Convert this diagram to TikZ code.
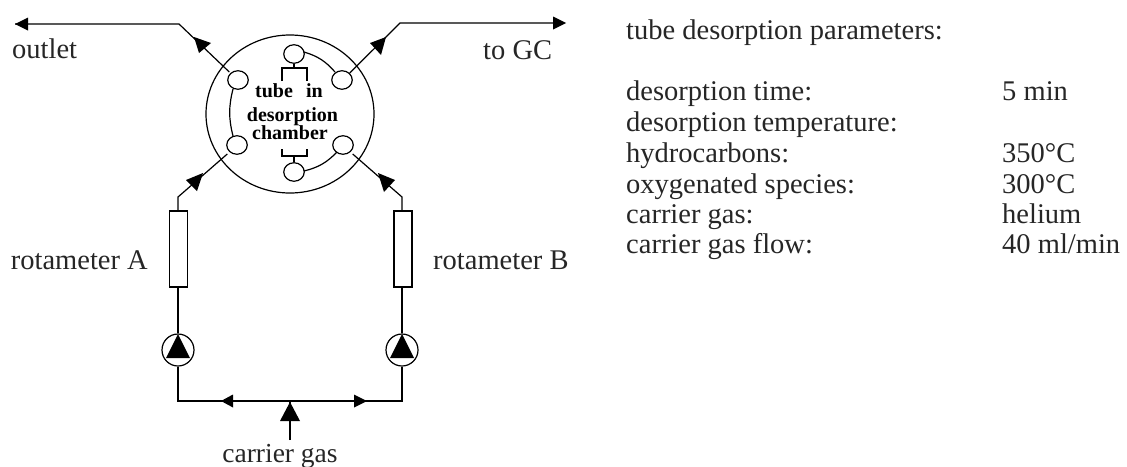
\documentclass[tikz,border=0pt]{standalone}
\usepackage{fontspec}
\setmainfont{Liberation Serif}
\usetikzlibrary{calc,shapes.geometric}
\tikzset{
  ln/.style={line width=1.2pt,black},
  hd/.style={fill=black,draw=none},
  lbl/.style={font=\fontsize{28.5}{30}\selectfont,inner sep=0pt,anchor=base west,text=black!85},
  lblc/.style={font=\fontsize{27.5}{30}\selectfont,inner sep=0pt,anchor=base,text=black!85},
  inner/.style={font=\fontsize{20}{20}\selectfont\bfseries,inner sep=0pt,anchor=base},
  port/.style={draw,ellipse,line width=1.2pt,minimum width=20.5pt,minimum height=18.5pt,inner sep=0pt},
  meter/.style={draw,line width=1.2pt,minimum width=18pt,minimum height=76pt,inner sep=0pt},
  pump/.style={draw,circle,line width=1.2pt,minimum size=32pt,inner sep=0pt},
}
\begin{document}
\begin{tikzpicture}[x=1pt,y=-1pt]
\useasboundingbox (0,0) rectangle (1127,466);
% chamber
\node[draw,ellipse,line width=1.2pt,minimum width=168pt,minimum height=158pt,inner sep=0pt] (ch) at (290,114) {};
\node[port] (pt) at (294,54) {};
\node[port] (ptr) at (342,80) {};
\node[port] (ptl) at (238,80) {};
\node[port] (pbl) at (237,145) {};
\node[port] (pbr) at (343,145) {};
\node[port] (pb) at (294,172) {};
\draw[ln] (304,52) to[bend left=16] (335,72);
\draw[ln] (304,171) to[bend right=16] (337,152);
\draw[ln] (233,89) to[bend right=14] (233,136);
% brackets
\draw[ln] (pt.south) -- (294,68);
\draw[ln] (282,81) -- (282,68) -- (307,68) -- (307,81);
\draw[ln] (pb.north) -- (294,156);
\draw[ln] (282,149) -- (282,156) -- (307,156) -- (307,149);
% inner text
\node[inner,anchor=base west] (t1) at (255,97) {tube};
\node[inner,anchor=base east] (t2) at (323,97) {in};
\node[inner] (t3) at (292.5,121) {desorption};
\node[inner] (t4) at (290,139) {chamber};
% outlet
\coordinate (ok) at (179,24);
\coordinate (ol) at (15,24);
\draw[ln] (ptl.north west) ++(-1,-1) -- (ok) -- (ol);
\fill[hd] (15,24) -- (28,17.5) -- (28,30.5) -- cycle;
\fill[hd] (194,37) -- (211,43) -- (199,53) -- cycle;
% to GC
\coordinate (gk) at (400,23);
\draw[ln] (ptr.north east) -- (gk) -- (558,23);
\fill[hd] (566,23) -- (553,16.5) -- (553,29.5) -- cycle;
\fill[hd] (386,37) -- (381,55) -- (370,43) -- cycle;
% rotameters
\node[meter] (ra) at (178.5,249) {};
\node[meter] (rb) at (403,249) {};
\coordinate (ka) at (178,197);
\coordinate (kb) at (402,197);
\draw[ln] (pbl.south west) ++(-2,2) -- (ka) -- (ra.north -| ka);
\draw[ln] (pbr.south east) ++(2,2) -- (kb) -- (rb.north -| kb);
\fill[hd] (203,173) -- (197,191) -- (186,180) -- cycle;
\fill[hd] (378,173) -- (395,180) -- (384,192) -- cycle;
% pumps
\node[pump] (pa) at (178,350) {};
\node[pump] (pc) at (402,350) {};
\fill[hd] (178,334) -- (190,358) -- (166,358) -- cycle;
\fill[hd] (402,334) -- (414,358) -- (390,358) -- cycle;
\draw[ln] (ra.south -| pa) -- (pa.north);
\draw[ln] (rb.south -| pc) -- (pc.north);
% bottom
\coordinate (j) at (290,401);
\draw[ln] (pa.south) -- (178,401) -- (402,401) -- (pc.south);
\fill[hd] (221,401) -- (233,394.5) -- (233,407.5) -- cycle;
\fill[hd] (367,401) -- (354,394.5) -- (354,407.5) -- cycle;
\coordinate (cg) at (290,440);
\draw[ln] (cg) -- (j);
\fill[hd] (290,402) -- (300,421) -- (280,421) -- cycle;
% labels
\node[lbl] (outlet) at (12,58) {outlet};
\node[lbl] (togc) at (483,59) {to GC};
\node[lbl,anchor=base east] (rotA) at (148,269) {rotameter A};
\node[lbl] (rotB) at (433,269) {rotameter B};
\node[lblc] (carrier) at (280,462) {carrier gas};
% parameters
\node[lbl] (h) at (626,39) {tube desorption parameters:};
\node[lbl] (a1) at (626,100) {desorption time:};
\node[lbl] (a2) at (626,131) {desorption temperature:};
\node[lbl] (a3) at (626,162) {hydrocarbons:};
\node[lbl] (a4) at (626,193) {oxygenated species:};
\node[lbl] (a5) at (626,223) {carrier gas:};
\node[lbl] (a6) at (626,253) {carrier gas flow:};
\node[lbl] (b1) at (1002,100) {5 min};
\node[lbl] (b3) at (1002,162) {350°C};
\node[lbl] (b4) at (1002,193) {300°C};
\node[lbl] (b5) at (1002,223) {helium};
\node[lbl] (b6) at (1002,253) {40 ml/min};
\end{tikzpicture}
\end{document}
